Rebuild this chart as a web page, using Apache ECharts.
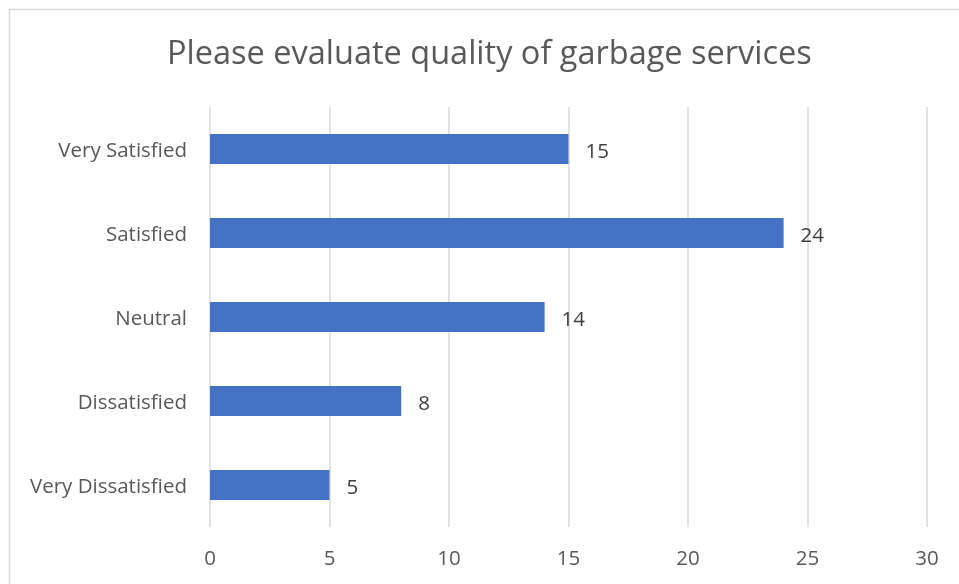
<!DOCTYPE html>
<html><head><meta charset="utf-8">
<script src="https://cdn.jsdelivr.net/npm/echarts@6/dist/echarts.min.js"></script>
<style>html,body{margin:0;padding:0;background:#fff;}#c{width:959px;height:584px;}</style>
</head><body><div id="c"></div>
<script>
const categories = ['Very Dissatisfied', 'Dissatisfied', 'Neutral', 'Satisfied', 'Very Satisfied'];
const values = [5, 8, 14, 24, 15];
const titleText = 'Please evaluate quality of garbage services';
const FONT = 'Open Sans';
const chart = echarts.init(document.getElementById('c'), null, {renderer: 'canvas'});
chart.setOption({
  backgroundColor: '#ffffff',
  animation: false,
  graphic: [{type: 'rect', shape: {x: 9.5, y: 9.5, width: 960, height: 600}, style: {fill: 'none', stroke: '#d9d9d9', lineWidth: 1.5}}],
  title: {text: titleText, left: 162, top: 33, textStyle: {fontFamily: FONT, fontSize: 32.5, fontWeight: 'normal', color: '#595959'}},
  grid: {left: 210, right: 32, top: 107, bottom: 57},
  xAxis: {type: 'value', min: 0, max: 30, interval: 5,
    axisLine: {show: false}, axisTick: {show: false},
    splitLine: {lineStyle: {color: '#d9d9d9', width: 1.5}},
    axisLabel: {fontFamily: FONT, fontSize: 20.5, color: '#595959', margin: 22}},
  yAxis: {type: 'category', data: categories,
    axisLine: {show: false}, axisTick: {show: false},
    axisLabel: {fontFamily: FONT, fontSize: 20.5, color: '#595959', margin: 23,
      formatter: '{a|{value}}',
      rich: {a: {fontFamily: FONT, fontSize: 20.5, color: '#595959', padding: [5, 0, 0, 0]}}}},
  series: [{type: 'bar', data: values, barWidth: 30,
    itemStyle: {color: '#4472C4'},
    label: {show: true, position: 'right', distance: 17, offset: [0, 3], fontFamily: FONT, fontSize: 20.5, color: '#404040'}}]
});
</script></body></html>
